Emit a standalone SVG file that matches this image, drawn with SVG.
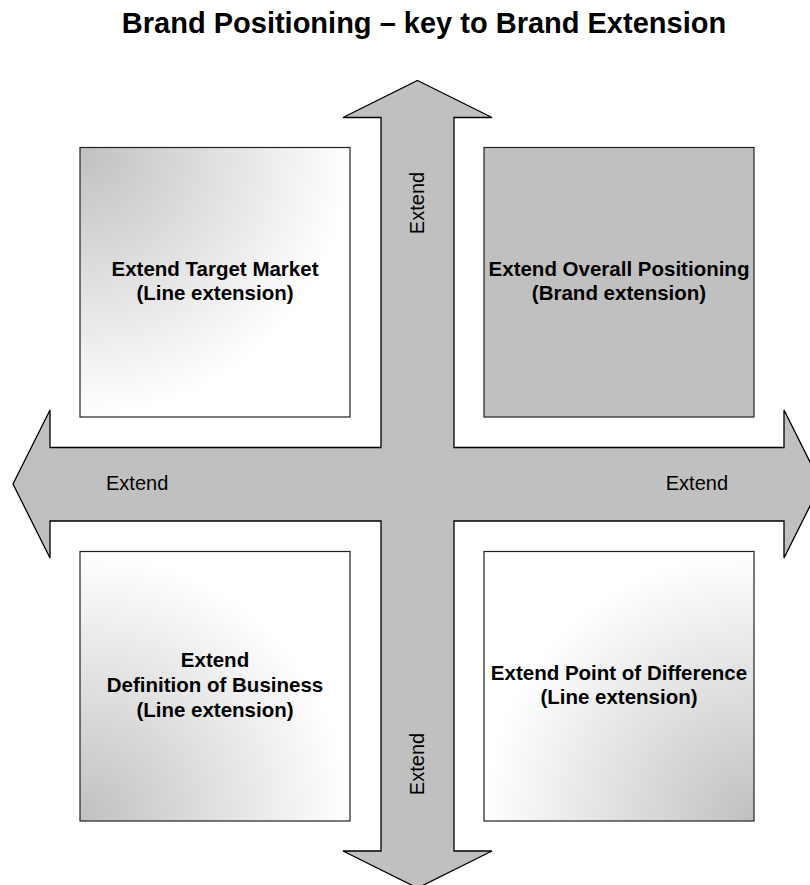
<svg xmlns="http://www.w3.org/2000/svg" width="810" height="885" viewBox="0 0 810 885">
  <style>
    .title { font-family: "Liberation Sans", Arial, sans-serif; font-size: 29px; font-weight: bold; fill: #000; }
    .box { stroke: #222; stroke-width: 1.2; }
    .lbl { font-family: "Liberation Sans", Arial, sans-serif; font-size: 20.5px; font-weight: bold; fill: #000; text-anchor: middle; }
    .ext { font-family: "Liberation Sans", Arial, sans-serif; font-size: 20px; fill: #000; }
    .cross { fill: #c0c0c0; stroke: #000; stroke-width: 1.3; stroke-linejoin: miter; }
  </style>
  <defs>
    <radialGradient id="gTL" cx="0" cy="0" r="1" fx="0" fy="0" gradientUnits="objectBoundingBox">
      <stop offset="0" stop-color="#c0c0c0"/>
      <stop offset="1" stop-color="#ffffff"/>
    </radialGradient>
    <radialGradient id="gBL" cx="0" cy="1" r="1" fx="0" fy="1" gradientUnits="objectBoundingBox">
      <stop offset="0" stop-color="#c0c0c0"/>
      <stop offset="1" stop-color="#ffffff"/>
    </radialGradient>
    <radialGradient id="gBR" cx="1" cy="1" r="1" fx="1" fy="1" gradientUnits="objectBoundingBox">
      <stop offset="0" stop-color="#c0c0c0"/>
      <stop offset="1" stop-color="#ffffff"/>
    </radialGradient>
  </defs>
  <rect width="810" height="885" fill="#ffffff"/>
  <text class="title" x="424" y="33" text-anchor="middle">Brand Positioning – key to Brand Extension</text>

  <g id="connectors">
    <polygon class="cross" points="417.5,80.5 492,117.5 454,117.5 454,447.5 784,447.5 784,410 821,484 784,558 784,521 454,521 454,851 492,851 417.5,888 343,851 381,851 381,521 50,521 50,558 13,484 50,410 50,447.5 381,447.5 381,117.5 343,117.5"/>
    <text class="ext" x="106" y="490">Extend</text>
    <text class="ext" x="728" y="490" text-anchor="end">Extend</text>
    <text class="ext" text-anchor="middle" transform="translate(424,203) rotate(-90)">Extend</text>
    <text class="ext" text-anchor="middle" transform="translate(424,764) rotate(-90)">Extend</text>
  </g>

  <g id="box-target-market">
    <rect class="box" x="80" y="147.5" width="270" height="269.5" fill="url(#gTL)"/>
    <text class="lbl" x="215" y="276">Extend Target Market</text>
    <text class="lbl" x="215" y="300">(Line extension)</text>
  </g>
  <g id="box-overall-positioning">
    <rect class="box" x="484" y="147.5" width="270" height="269.5" fill="#c0c0c0"/>
    <text class="lbl" x="619" y="276">Extend Overall Positioning</text>
    <text class="lbl" x="619" y="300">(Brand extension)</text>
  </g>
  <g id="box-definition-business">
    <rect class="box" x="80" y="551.5" width="270" height="269.5" fill="url(#gBL)"/>
    <text class="lbl" x="215" y="667">Extend</text>
    <text class="lbl" x="215" y="692">Definition of Business</text>
    <text class="lbl" x="215" y="717">(Line extension)</text>
  </g>
  <g id="box-point-difference">
    <rect class="box" x="484" y="551.5" width="270" height="269.5" fill="url(#gBR)"/>
    <text class="lbl" x="619" y="680">Extend Point of Difference</text>
    <text class="lbl" x="619" y="704">(Line extension)</text>
  </g>
</svg>
